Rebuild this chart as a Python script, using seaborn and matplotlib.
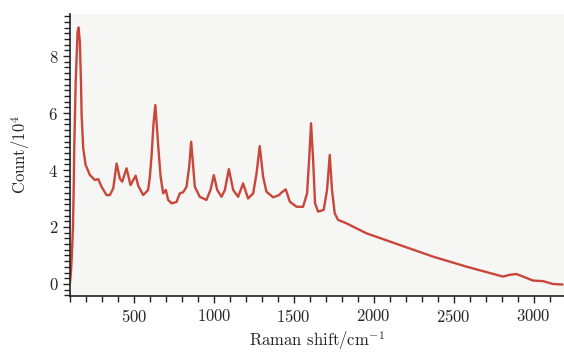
import matplotlib
matplotlib.use("Agg")
import matplotlib.pyplot as plt
import seaborn as sns
import pandas as pd
from matplotlib.ticker import MultipleLocator

# Raman shift (cm^-1) and counts (x10^4)
shift = [100, 106, 112, 119, 124, 127, 136, 148, 154, 162, 169, 173, 183, 198,
         225, 256, 277, 298, 329, 350, 371, 392, 412, 427, 454, 479, 511, 527,
         558, 589, 600, 611, 622, 634, 644, 654, 667, 683, 700, 714, 736, 767,
         787, 808, 829, 846, 858, 871, 881, 912, 954, 979, 1000, 1021, 1048,
         1069, 1094, 1121, 1152, 1183, 1214, 1246, 1267, 1287, 1308, 1329, 1371,
         1408, 1425, 1450, 1475, 1517, 1558, 1583, 1596, 1608, 1621, 1633, 1652,
         1687, 1708, 1725, 1739, 1756, 1777, 1829, 1954, 2162, 2371, 2579, 2808,
         2850, 2892, 2925, 2996, 3058, 3121, 3181]
count = [0.03, 0.40, 1.00, 2.00, 3.50, 4.77, 7.10, 8.85, 9.00, 8.50, 7.10, 5.93,
         4.77, 4.18, 3.82, 3.65, 3.68, 3.41, 3.12, 3.12, 3.36, 4.23, 3.70, 3.59,
         4.06, 3.47, 3.80, 3.45, 3.12, 3.30, 3.77, 4.53, 5.58, 6.28, 5.50, 4.70,
         3.77, 3.18, 3.30, 2.95, 2.83, 2.88, 3.18, 3.22, 3.41, 4.12, 4.99, 4.12,
         3.41, 3.06, 2.95, 3.30, 3.82, 3.30, 3.06, 3.30, 4.03, 3.30, 3.06, 3.53,
         3.00, 3.18, 3.88, 4.84, 3.77, 3.24, 3.04, 3.12, 3.22, 3.32, 2.89, 2.71,
         2.71, 3.18, 4.35, 5.64, 4.35, 2.83, 2.54, 2.60, 3.30, 4.53, 3.30, 2.48,
         2.25, 2.13, 1.78, 1.37, 0.96, 0.61, 0.26, 0.32, 0.35, 0.28, 0.12, 0.10,
         0.00, -0.02]

x_ticks = [500, 1000, 1500, 2000, 2500, 3000]
y_ticks = [0, 2, 4, 6, 8]

df = pd.DataFrame({"shift": shift, "count": count})

sns.set_style("ticks")
plt.rcParams["font.family"] = ["serif"]
plt.rcParams["font.serif"] = ["cmr10", "DejaVu Serif"]
plt.rcParams["mathtext.fontset"] = "cm"
plt.rcParams["axes.formatter.use_mathtext"] = True

fig = plt.figure(figsize=(5.64, 3.54), dpi=100)
ax = fig.add_axes([0.124, 0.164, 0.876, 0.796])
ax.set_facecolor("#f6f6f4")

sns.lineplot(data=df, x="shift", y="count", ax=ax, color="#c9473a",
             linewidth=1.7, estimator=None, sort=False)

ax.set_xlim(100, 3190)
ax.set_ylim(-0.42, 9.47)
ax.set_xticks(x_ticks)
ax.set_yticks(y_ticks)
ax.xaxis.set_minor_locator(MultipleLocator(100))
ax.yaxis.set_minor_locator(MultipleLocator(0.2))
ax.tick_params(axis="both", which="major", direction="out", length=5,
               width=1.0, labelsize=12, color="#222222")
ax.tick_params(axis="both", which="minor", direction="out", length=4,
               width=1.0, color="#222222")
for s in ["top", "right"]:
    ax.spines[s].set_visible(False)
for s in ["left", "bottom"]:
    ax.spines[s].set_linewidth(1.2)
    ax.spines[s].set_color("#222222")

ax.set_xlabel("Raman shift/cm$^{-1}$", fontsize=12, labelpad=3)
ax.set_ylabel("Count/10$^4$", fontsize=12, labelpad=12)

fig.savefig("out.png", dpi=100, facecolor="white")
